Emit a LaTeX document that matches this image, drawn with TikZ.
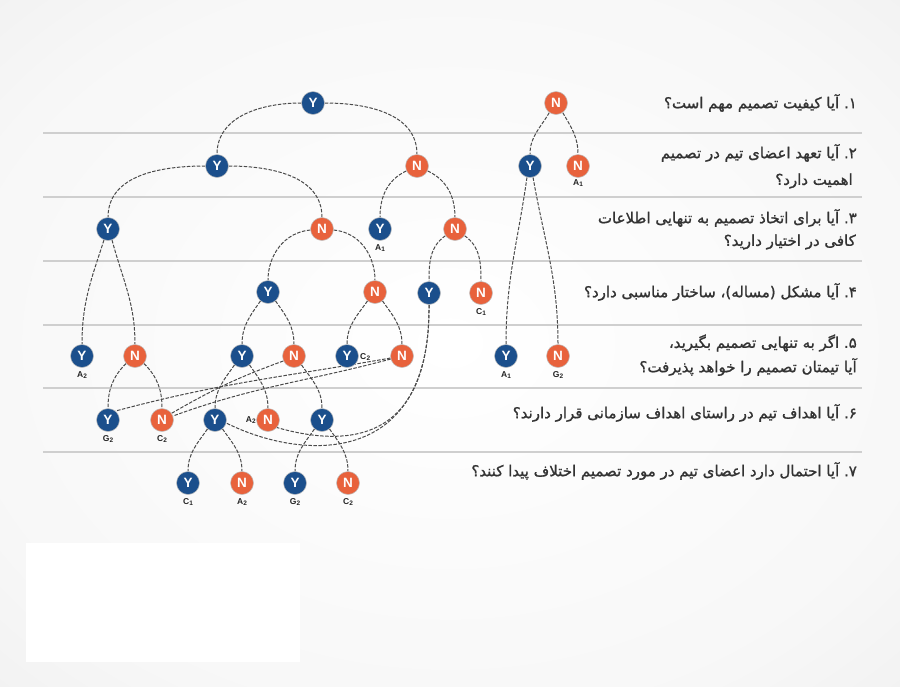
\documentclass[tikz,border=0pt]{standalone}
\usepackage{fontspec}
\setmainfont{Liberation Sans}
\newfontfamily\fa[Script=Arabic,FakeBold=1.2]{DejaVu Sans}
\TeXXeTstate=1
\definecolor{yblue}{HTML}{1B4F8C}
\definecolor{nred}{HTML}{E8623C}
\definecolor{edgec}{HTML}{4A4A4A}
\definecolor{linec}{HTML}{CFCFCF}
\definecolor{textc}{HTML}{333333}
\definecolor{labc}{HTML}{222222}
\pgfdeclareradialshading{bgshade}{\pgfpoint{0bp}{0bp}}{color(0bp)=(white); color(28bp)=(white!97!black); color(50bp)=(white!91!black); color(72bp)=(white!86!black)}
\pgfdeclarelayer{bg}
\pgfdeclarelayer{edges}
\pgfsetlayers{bg,edges,main}
\tikzset{
  yn/.style={circle, minimum size=23pt, inner sep=0pt, text=white, font=\fontsize{13.5}{13.5}\selectfont\bfseries, draw=white!75!black, line width=0.5pt},
  ynode/.style={yn, fill=yblue},
  nnode/.style={yn, fill=nred},
  lab/.style={font=\fontsize{8.5}{8.5}\selectfont\bfseries, text=labc, inner sep=0pt},
  conn/.style={draw=edgec, line width=1pt, dash pattern=on 3.5pt off 1.5pt},
  sepline/.style={draw=linec, line width=1.6pt},
  qtext/.style={anchor=east, font=\fa\fontsize{15}{18}\selectfont, text=textc, inner sep=0pt},
}
\newcommand{\lbl}[2]{#1\kern0.2pt\raisebox{-1.2pt}{\fontsize{6.5}{6.5}\selectfont #2}}
\begin{document}
\begin{tikzpicture}[x=1pt,y=-1pt]
\useasboundingbox (0,0) rectangle (900,686);
\begin{pgfonlayer}{bg}
\shade[shading=bgshade] (0,0) rectangle (900,686);
\fill[white] (26,543) rectangle (300,662);
\foreach \yy in {133,197,261,325,388,452}{\draw[sepline] (43,\yy) -- (862,\yy);}
\end{pgfonlayer}

% nodes
\node[ynode] (a) at (313,103) {Y};
\node[ynode] (b) at (217,166) {Y};
\node[nnode] (c) at (417,166) {N};
\node[ynode] (d) at (108,229) {Y};
\node[nnode] (e) at (322,229) {N};
\node[ynode] (f) at (380,229) {Y};
\node[nnode] (g) at (455,229) {N};
\node[ynode] (h) at (268,292) {Y};
\node[nnode] (i) at (375,292) {N};
\node[ynode] (j) at (429,293) {Y};
\node[nnode] (k) at (481,293) {N};
\node[ynode] (l) at (82,356) {Y};
\node[nnode] (m) at (135,356) {N};
\node[ynode] (n) at (242,356) {Y};
\node[nnode] (o) at (294,356) {N};
\node[ynode] (p) at (347,356) {Y};
\node[nnode] (q) at (402,356) {N};
\node[ynode] (r) at (108,420) {Y};
\node[nnode] (s) at (162,420) {N};
\node[ynode] (t) at (215,420) {Y};
\node[nnode] (u) at (268,420) {N};
\node[ynode] (v) at (322,420) {Y};
\node[ynode] (w) at (188,483) {Y};
\node[nnode] (x) at (242,483) {N};
\node[ynode] (yy) at (295,483) {Y};
\node[nnode] (z) at (348,483) {N};
\node[nnode] (ra) at (556,103) {N};
\node[ynode] (rb) at (530,166) {Y};
\node[nnode] (rc) at (578,166) {N};
\node[ynode] (rd) at (506,356) {Y};
\node[nnode] (re) at (558,356) {N};

% labels
\node[lab] (lf) at (380,248) {\lbl{A}{1}};
\node[lab] (lk) at (481,312) {\lbl{C}{1}};
\node[lab] (ll) at (82,375) {\lbl{A}{2}};
\node[lab, anchor=west] (lp) at (360,357) {\lbl{C}{2}};
\node[lab] (lr) at (108,439) {\lbl{G}{2}};
\node[lab] (ls) at (162,439) {\lbl{C}{2}};
\node[lab, anchor=east] (lu) at (256,420) {\lbl{A}{2}};
\node[lab] (lw) at (188,502) {\lbl{C}{1}};
\node[lab] (lx) at (242,502) {\lbl{A}{2}};
\node[lab] (lyy) at (295,502) {\lbl{G}{2}};
\node[lab] (lz) at (348,502) {\lbl{C}{2}};
\node[lab] (lrc) at (578,183) {\lbl{A}{1}};
\node[lab] (lrd) at (506,375) {\lbl{A}{1}};
\node[lab] (lre) at (558,375) {\lbl{G}{2}};

% edges
\begin{pgfonlayer}{edges}
\draw[conn] (a.west) to[out=180,in=90] (b.north);
\draw[conn] (a.east) to[out=0,in=90] (c.north);
\draw[conn] (b.west) to[out=180,in=90] (d.north);
\draw[conn] (b.east) to[out=0,in=90] (e.north);
\draw[conn] (c.205) to[out=205,in=90] (f.north);
\draw[conn] (c.-25) to[out=-25,in=90] (g.north);
\draw[conn] (d.250) to[out=252,in=90] (l.north);
\draw[conn] (d.290) to[out=-75,in=90] (m.north);
\draw[conn] (e.185) to[out=185,in=90] (h.north);
\draw[conn] (e.-5) to[out=-5,in=90] (i.north);
\draw[conn] (g.215) to[out=215,in=90] (j.north);
\draw[conn] (g.-35) to[out=-35,in=90] (k.north);
\draw[conn] (h.230) to[out=235,in=90] (n.north);
\draw[conn] (h.-50) to[out=-55,in=90] (o.north);
\draw[conn] (i.230) to[out=235,in=90] (p.north);
\draw[conn] (i.-50) to[out=-55,in=90] (q.north);
\draw[conn] (m.220) to[out=225,in=90] (r.north);
\draw[conn] (m.-40) to[out=-45,in=90] (s.north);
\draw[conn] (n.230) to[out=235,in=90] (t.north);
\draw[conn] (n.-50) to[out=-55,in=90] (u.north);
\draw[conn] (o.-50) to[out=-55,in=90] (v.north);
\draw[conn] (t.230) to[out=235,in=90] (w.north);
\draw[conn] (t.-50) to[out=-55,in=90] (x.north);
\draw[conn] (v.230) to[out=235,in=90] (yy.north);
\draw[conn] (v.-50) to[out=-55,in=90] (z.north);
\draw[conn] (o.205) to[out=200,in=30] (s.35);
\draw[conn] (q.195) to[out=195,in=20] (s.20);
\draw[conn] (q.190) to[out=190,in=15] (r.50);
\draw[conn] (j.south) .. controls (431,470) and (300,460) .. (t.-15);
\draw[conn] (j.south) .. controls (430,445) and (345,447) .. (u.-40);
\draw[conn] (ra.235) to[out=240,in=90] (rb.north);
\draw[conn] (ra.-55) to[out=-60,in=90] (rc.north);
\draw[conn] (rb.255) to[out=262,in=90] (rd.north);
\draw[conn] (rb.285) to[out=-80,in=90] (re.north);
\end{pgfonlayer}

% questions
\node[qtext] (q1) at (857,103) {\beginR ۱\hbox{.} آیا کیفیت تصمیم مهم است؟\endR};
\node[qtext] (q2a) at (857,153) {\beginR ۲\hbox{.} آیا تعهد اعضای تیم در تصمیم\endR};
\node[qtext] (q2b) at (853,181) {\beginR اهمیت دارد؟\endR};
\node[qtext] (q3a) at (857,218) {\beginR ۳\hbox{.} آیا برای اتخاذ تصمیم به تنهایی اطلاعات\endR};
\node[qtext] (q3b) at (856,242) {\beginR کافی در اختیار دارید؟\endR};
\node[qtext] (q4) at (857,292) {\beginR ۴\hbox{.} آیا مشکل (مساله)، ساختار مناسبی دارد؟\endR};
\node[qtext] (q5a) at (857,343) {\beginR ۵\hbox{.} اگر به تنهایی تصمیم بگیرید،\endR};
\node[qtext] (q5b) at (857,367) {\beginR آیا تیمتان تصمیم را خواهد پذیرفت؟\endR};
\node[qtext] (q6) at (857,413) {\beginR ۶\hbox{.} آیا اهداف تیم در راستای اهداف سازمانی قرار دارند؟\endR};
\node[qtext] (q7) at (857,471) {\beginR ۷\hbox{.} آیا احتمال دارد اعضای تیم در مورد تصمیم اختلاف پیدا کنند؟\endR};
\end{tikzpicture}
\end{document}
